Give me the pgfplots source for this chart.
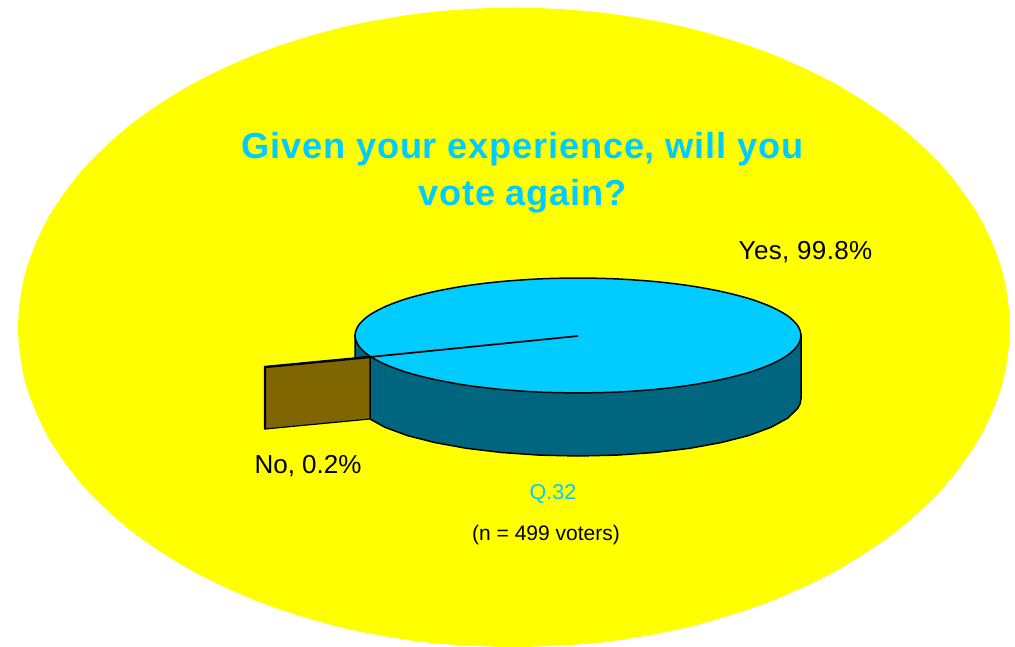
\documentclass[border=0pt]{standalone}
\usepackage{pgfplots}
\usepackage{fontspec}
\setmainfont{Liberation Sans}
\pgfplotsset{compat=1.18}
\definecolor{bgyellow}{HTML}{FFFF00}
\definecolor{pietop}{HTML}{00CCFF}
\definecolor{pieside}{HTML}{006680}
\definecolor{sliver}{HTML}{806600}
\begin{document}
\begin{tikzpicture}
\begin{axis}[
  scale only axis, width=1015pt, height=647pt,
  xmin=0, xmax=1015, ymin=0, ymax=647, y dir=reverse,
  axis lines=none, ticks=none, clip=true,
]
% white page behind everything
\addplot[fill=white, draw=none] coordinates {(0,0) (1015,0) (1015,647) (0,647)} -- cycle;
% backdrop oval
\addplot[fill=bgyellow, draw=none, smooth] coordinates {
 (514,647.5) (600.1,642.6) (683.6,628.2) (762,604.6) (832.8,572.6) (893.9,533.2) (943.5,487.5) (980.1,436.9) (1002.5,383.1) (1010,327.5)
 (1002.5,271.9) (980.1,218.1) (943.5,167.5) (893.9,121.8) (832.8,82.4) (762,50.4) (683.6,26.8) (600.1,12.4) (514,7.5)
 (427.9,12.4) (344.4,26.8) (266,50.4) (195.2,82.4) (134.1,121.8) (84.5,167.5) (47.9,218.1) (25.5,271.9) (18,327.5)
 (25.5,383.1) (47.9,436.9) (84.5,487.5) (134.1,533.2) (195.2,572.6) (266,604.6) (344.4,628.2) (427.9,642.6) (514,647.5)
} -- cycle;
% rim of the Yes slice
\addplot[fill=pieside, draw=black, line width=1.5pt] coordinates {
 (801,335.5) (801,398.5) (800.2,403.5) (797.6,408.5) (787.6,418.2) (771.1,427.25) (748.8,435.5) (721.3,442.5) (689.5,448.3) (654.3,452.5) (616.7,455.1) (578,456)
 (539.3,455.1) (501.7,452.5) (466.5,448.3) (434.7,442.5) (407.2,435.5) (384.9,427.25) (370,419) (370,356.5) (355,358) (355,335.5)
} -- cycle;
% top of the Yes slice
\addplot[fill=pietop, draw=black, line width=1.5pt, smooth] coordinates {
 (578,393) (616.7,392.1) (654.3,389.5) (689.5,385.3) (721.3,379.5) (748.8,372.5) (771.1,364.25) (787.6,355.2) (797.6,345.5) (801,335.5)
 (797.6,325.5) (787.6,315.8) (771.1,306.75) (748.8,298.5) (721.3,291.5) (689.5,285.7) (654.3,281.5) (616.7,278.9) (578,278)
 (539.3,278.9) (501.7,281.5) (466.5,285.7) (434.7,291.5) (407.2,298.5) (384.9,306.75) (368.4,315.8) (358.4,325.5) (355,335.5)
 (358.4,345.5) (368.4,355.2) (384.9,364.25) (407.2,372.5) (434.7,379.5) (466.5,385.3) (501.7,389.5) (539.3,392.1) (578,393)
} -- cycle;
% pulled-out No slice
\addplot[fill=sliver, draw=black, line width=1.2pt] coordinates {
 (265,367) (370,357) (370,419) (265,429)
} -- cycle;
\addplot[draw=black, line width=2.4pt] coordinates {(265,429) (265,367) (370,357)};
\addplot[draw=black, line width=1.7pt] coordinates {(370,357) (578,336)};
% texts
\node[font=\bfseries\fontsize{36.2}{36.2}\selectfont\addfontfeature{LetterSpace=2.2}, text=pietop] at (axis cs:522.5,149.5) {Given your experience, will you};
\node[font=\bfseries\fontsize{36.2}{36.2}\selectfont\addfontfeature{LetterSpace=2.2}, text=pietop] at (axis cs:522.5,196.5) {vote again?};
\node[font=\fontsize{26}{26}\selectfont\addfontfeature{LetterSpace=1.5}] at (axis cs:805.5,252) {Yes, 99.8\%};
\node[font=\fontsize{26}{26}\selectfont] at (axis cs:308,466.5) {No, 0.2\%};
\node[font=\fontsize{21.5}{21.5}\selectfont, text=pietop] at (axis cs:553,494) {Q.32};
\node[font=\fontsize{21}{21}\selectfont] at (axis cs:546,535) {(n = 499 voters)};
\end{axis}
\end{tikzpicture}
\end{document}
